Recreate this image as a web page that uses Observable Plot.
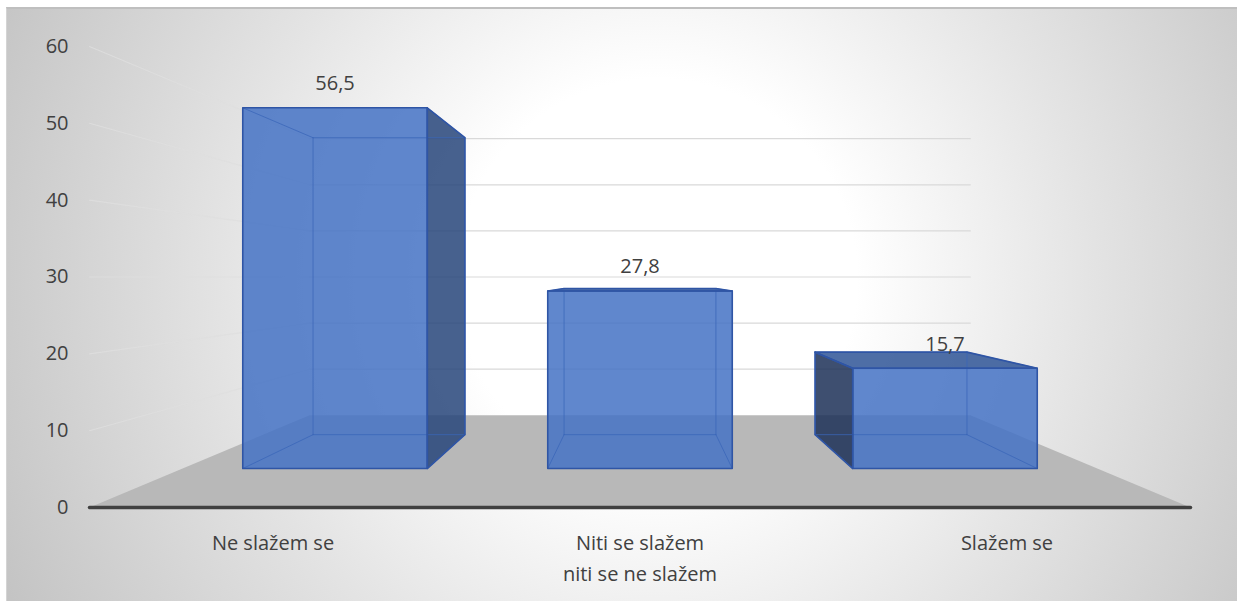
<!DOCTYPE html>
<html>
<head>
<meta charset="utf-8">
<script src="https://cdn.jsdelivr.net/npm/d3@7"></script>
<script src="https://cdn.jsdelivr.net/npm/@observablehq/plot@0.6"></script>
<style>
  html, body { margin: 0; padding: 0; background: #ffffff; }
  #wrap { position: relative; width: 1237px; height: 601px; overflow: hidden; }
  #bg { position: absolute; left: 6px; top: 7px; right: 0; bottom: 0;
        border-top: 2px solid #bfbfbf; border-left: 1px solid #d4d4d4;
        background: radial-gradient(circle at 650px 270px, #ffffff 0px, #ffffff 200px, #e4e4e4 430px, #c3c3c3 730px); }
  #chart { position: absolute; left: 0; top: 0; }
</style>
</head>
<body>
<div id="wrap"><div id="bg"></div><div id="chart"></div></div>
<script>
// ---- data ----
const categories = ["Ne slažem se", "Niti se slažem\nniti se ne slažem", "Slažem se"];
const values = [56.5, 27.8, 15.7];
const yTicks = [0, 10, 20, 30, 40, 50, 60];
const yMax = 60;

// ---- 3D geometry (in data units) ----
const nCat = categories.length;
const halfBar = 0.3025;      // half of bar width in category units
const zFront = 0.305, zBack = 0.693; // bar depth within floor (0 = front, 1 = back)
const k = 2 / 3;             // perspective strength: back plane scaled 0.6
const cx0 = nCat / 2, cy0 = yMax / 2;
function proj(x, v, z) {
  const f = 1 / (1 + k * z);
  return {x: cx0 + (x - cx0) * f, y: cy0 + (v - cy0) * f};
}
function poly(id, pts) { return pts.map(([x, v, z]) => ({id, ...proj(x, v, z)})); }

// floor
const floorPts = poly("floor", [[0, 0, 0], [nCat, 0, 0], [nCat, 0, 1], [0, 0, 1]]);
// gridlines on back wall and left wall
const gridTicks = yTicks.filter(t => t > 0);
const backGrid = gridTicks.flatMap(t => poly("b" + t, [[0, t, 1], [nCat, t, 1]]));
const leftGrid = gridTicks.flatMap(t => poly("l" + t, [[0, t, 0], [0, t, 1]]));
const axisPts = poly("axis", [[0, 0, 0], [nCat, 0, 0]]);

const fronts = [], sidesR = [], sidesL = [], tops = [], edges = [], outlines = [], labels = [];
values.forEach((v, i) => {
  const c = i + 0.5, x0 = c - halfBar, x1 = c + halfBar, z0 = zFront, z1 = zBack;
  const front = [[x0, 0, z0], [x1, 0, z0], [x1, v, z0], [x0, v, z0]];
  fronts.push(...poly("f" + i, front));
  outlines.push(...poly("of" + i, front));
  if (x1 < cx0) {
    const s = [[x1, 0, z0], [x1, 0, z1], [x1, v, z1], [x1, v, z0]];
    sidesR.push(...poly("sr" + i, s)); outlines.push(...poly("osr" + i, s));
  }
  if (x0 > cx0) {
    const s = [[x0, 0, z0], [x0, 0, z1], [x0, v, z1], [x0, v, z0]];
    sidesL.push(...poly("sl" + i, s)); outlines.push(...poly("osl" + i, s));
  }
  if (v < cy0) {
    const t = [[x0, v, z0], [x1, v, z0], [x1, v, z1], [x0, v, z1]];
    tops.push(...poly("t" + i, t)); outlines.push(...poly("ot" + i, t));
  }
  // edges seen through the translucent box
  const E = [
    [[x0,0,z1],[x1,0,z1]], [[x0,v,z1],[x1,v,z1]], [[x0,0,z1],[x0,v,z1]], [[x1,0,z1],[x1,v,z1]],
    [[x0,0,z0],[x0,0,z1]], [[x1,0,z0],[x1,0,z1]], [[x0,v,z0],[x0,v,z1]], [[x1,v,z0],[x1,v,z1]]
  ];
  E.forEach((e, j) => edges.push(...poly("e" + i + "_" + j, e)));
  const top = proj(c, v, z0);
  labels.push({x: top.x, y: top.y, text: String(v).replace(".", ",")});
});
const catLabels = categories.map((name, i) => ({x: i + 0.5, y: 0, text: name}));

const chart = Plot.plot({
  width: 1237, height: 601,
  marginLeft: 89, marginRight: 47, marginTop: 46, marginBottom: 94,
  x: {domain: [0, nCat], axis: null},
  y: {domain: [0, yMax], axis: null},
  style: {background: "transparent", fontFamily: "'Open Sans', sans-serif", fontSize: "20px", color: "#404040", overflow: "visible"},
  marks: [
    Plot.line(floorPts, {x: "x", y: "y", z: "id", curve: "linear-closed", fill: "#b8b8b8", stroke: "none"}),
    Plot.line(backGrid, {x: "x", y: "y", z: "id", stroke: "#d9d9d9", strokeWidth: 1.2}),
    Plot.line(leftGrid, {x: "x", y: "y", z: "id", stroke: "#dedede", strokeWidth: 1.1, strokeOpacity: 0.8}),
    Plot.line(axisPts, {x: "x", y: "y", z: "id", stroke: "#404040", strokeWidth: 3.5}),
    Plot.line(fronts, {x: "x", y: "y", z: "id", curve: "linear-closed", fill: "#4472c4", fillOpacity: 0.85, stroke: "none"}),
    Plot.line(sidesR, {x: "x", y: "y", z: "id", curve: "linear-closed", fill: "#27457a", fillOpacity: 0.85, stroke: "none"}),
    Plot.line(sidesL, {x: "x", y: "y", z: "id", curve: "linear-closed", fill: "#1c3057", fillOpacity: 0.85, stroke: "none"}),
    Plot.line(tops, {x: "x", y: "y", z: "id", curve: "linear-closed", fill: "#2f5597", fillOpacity: 0.85, stroke: "none"}),
    Plot.line(edges, {x: "x", y: "y", z: "id", stroke: "#3a66b8", strokeWidth: 1, strokeOpacity: 0.75}),
    Plot.line(outlines, {x: "x", y: "y", z: "id", curve: "linear-closed", stroke: "#2f55a5", strokeWidth: 1.6}),
    Plot.axisY(yTicks, {tickSize: 0, tickPadding: 21, fontSize: 20, fill: "#404040", label: null}),
    Plot.text(labels, {x: "x", y: "y", text: "text", dy: -24, fontSize: 20, fill: "#404040"}),
    Plot.text(catLabels, {x: "x", y: "y", text: "text", lineAnchor: "top", dy: 20, lineHeight: 1.55, fontSize: 20, fill: "#404040"})
  ]
});
document.getElementById("chart").appendChild(chart);
</script>
</body>
</html>
